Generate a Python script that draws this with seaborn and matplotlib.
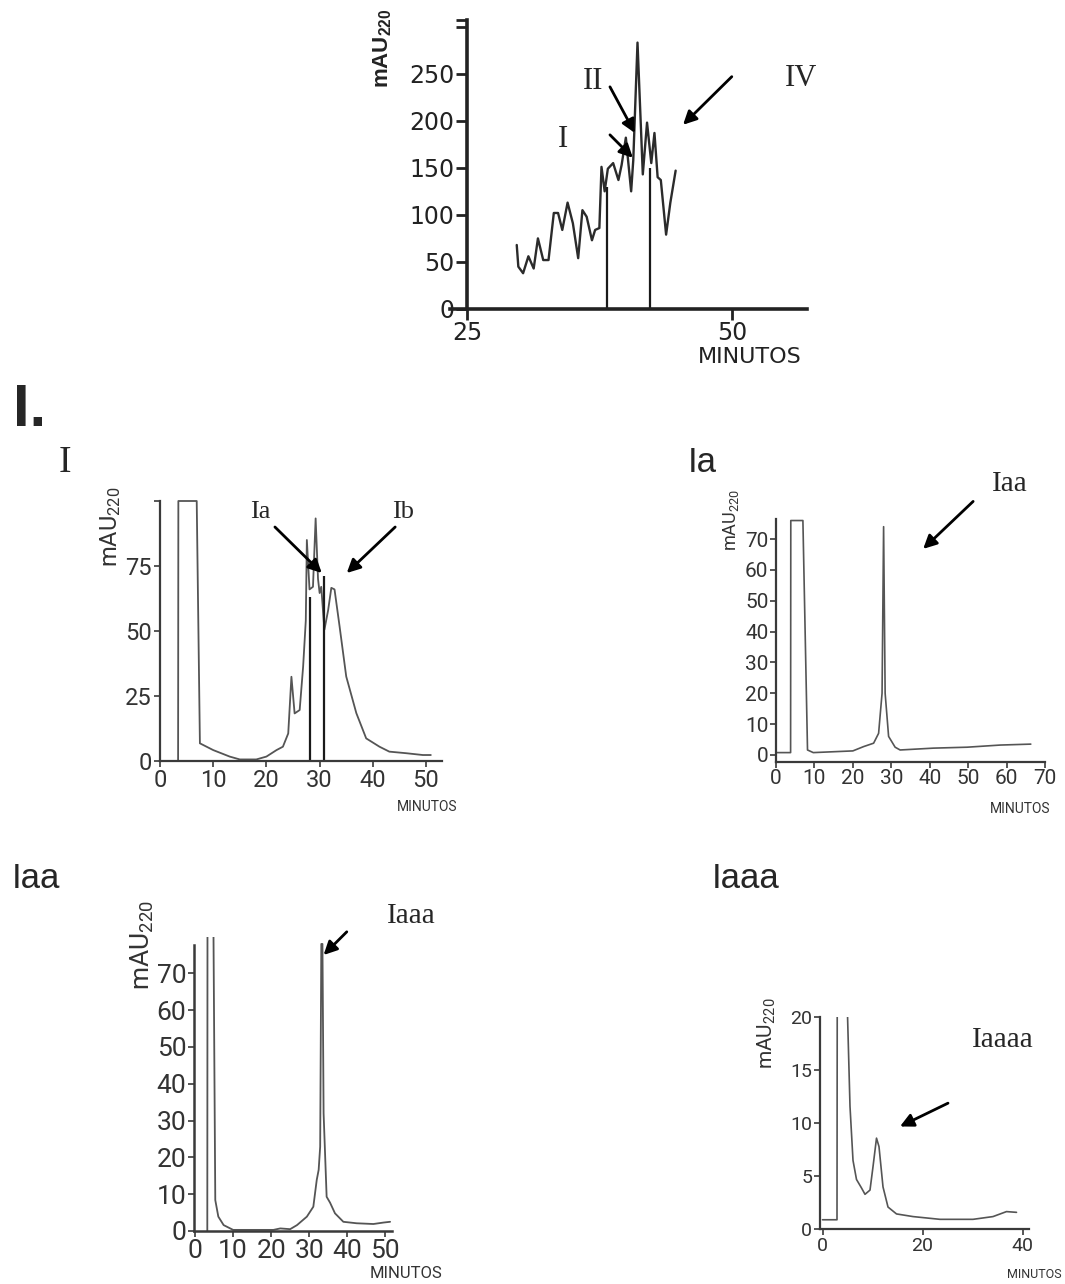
import matplotlib
matplotlib.use("Agg")
import matplotlib.pyplot as plt
import seaborn as sns

# ---------------- data ----------------
# crude extract chromatogram (minutes, mAU at 220 nm)
crude_min = [29.7, 29.85, 30.3, 30.8, 31.3, 31.7, 32.2, 32.7, 33.2, 33.6, 34.0, 34.5,
             35.0, 35.5, 35.9, 36.3, 36.8, 37.1, 37.5, 37.7, 38.0, 38.3, 38.8, 39.3,
             39.6, 40.0, 40.5, 40.7, 41.1, 41.6, 42.0, 42.4, 42.7, 43.0, 43.3, 43.8,
             44.2, 44.7]
crude_mau = [68, 45, 38, 56, 43, 75, 52, 52, 102, 102, 84, 113,
             91, 54, 105, 98, 73, 84, 86, 151, 125, 149, 155, 137,
             153, 182, 125, 158, 283, 143, 198, 155, 187, 140, 137, 79,
             113, 147]
crude_cut_min = [38.2, 42.3]
crude_cut_mau = [130, 150]

# fraction I
frI_min = [3.4, 3.45, 6.9, 7.5, 10.0, 13.1, 15.0, 18.1, 20.0, 21.9, 23.1, 24.1, 24.7,
           25.3, 26.25, 26.9, 27.4, 27.6, 28.1, 28.75, 29.25, 29.7, 30.0, 30.3, 30.9,
           31.6, 32.2, 32.8, 33.75, 35.0, 36.9, 38.75, 41.25, 43.1, 46.25, 49.4, 50.9]
frI_mau = [0, 100, 100, 6.8, 4.2, 1.7, 0.6, 0.6, 1.7, 4.2, 5.5, 10.6, 32.4,
           18.3, 19.6, 36.3, 54, 85, 66, 67, 93.3, 70, 64.6, 67, 50.5,
           58, 66.6, 66, 51.8, 32.5, 18.4, 8.7, 5.5, 3.6, 3.0, 2.3, 2.3]
frI_cut_min = [28.1, 30.8]
frI_cut_mau = [63, 71]

# fraction Ia
frIa_min = [0, 3.8, 3.85, 7.0, 8.2, 9.7, 20.0, 22.8, 25.4, 26.7, 27.6, 28.0, 28.4,
            29.3, 31.0, 32.3, 41.0, 49.7, 58.4, 66.3]
frIa_mau = [0.75, 0.75, 76, 76, 1.6, 0.75, 1.3, 2.7, 3.8, 7.0, 20.0, 74.0, 20.0,
            6.0, 2.5, 1.6, 2.2, 2.5, 3.2, 3.5]

# fraction Iaa
frIaa_min = [3.2, 3.25, 4.8, 5.3, 6.1, 7.5, 10.0, 20.6, 22.4, 25.0, 26.8, 29.4, 31.1,
             32.0, 32.5, 32.9, 33.2, 33.5, 33.8, 34.6, 35.5, 36.8, 39.0, 42.5, 46.9,
             49.6, 51.3]
frIaa_mau = [0, 85, 85, 8.4, 3.9, 1.6, 0.3, 0.3, 0.7, 0.5, 1.6, 3.9, 6.6,
             13.9, 16.6, 22.9, 78, 78, 32, 9.3, 7.7, 4.8, 2.5, 2.1, 1.9,
             2.3, 2.5]

# fraction Iaaa
frIaaa_min = [0, 2.9, 2.95, 4.9, 5.5, 6.1, 6.8, 7.8, 8.5, 9.5, 10.1, 10.8, 11.3, 12.1,
              13.1, 14.8, 18.1, 23.5, 30.1, 34.1, 36.8, 38.8]
frIaaa_mau = [0.9, 0.9, 22, 22, 11.6, 6.5, 4.7, 3.9, 3.3, 3.7, 5.9, 8.6, 7.8, 4.0,
              2.1, 1.45, 1.2, 0.94, 0.94, 1.2, 1.67, 1.6]

# ---------------- figure ----------------
sns.set_theme(style="ticks")
plt.rcParams["font.family"] = ["Roboto", "DejaVu Sans"]
plt.rcParams["mathtext.default"] = "regular"

W, H = 1065, 1284
fig = plt.figure(figsize=(W / 100, H / 100), dpi=100)
fig.patch.set_facecolor("white")


def panel(left, top, right, bottom):
    ax = fig.add_axes([left / W, 1 - bottom / H, (right - left) / W, (bottom - top) / H])
    ax.patch.set_alpha(0)
    return ax


def ftext(x, y, s, **kw):
    fig.text(x / W, 1 - y / H, s, **kw)


def style(ax, spine_w, color, tick_len, tick_w, size, family, pad, labelcolor):
    sns.despine(ax=ax)
    for s in ("left", "bottom"):
        ax.spines[s].set_linewidth(spine_w)
        ax.spines[s].set_color(color)
    ax.tick_params(length=tick_len, width=tick_w, color=color, labelsize=size,
                   pad=pad, labelcolor=labelcolor, direction="out",
                   labelfontfamily=family)
    ax.set_xlabel("")
    ax.set_ylabel("")
    ax.grid(False)


def arrow(ax, tail, tip, lw=2.0, head=20):
    ax.annotate("", xy=tip, xytext=tail, xycoords="data", textcoords="data",
                annotation_clip=False,
                arrowprops=dict(arrowstyle="-|>", color="black", lw=lw,
                                mutation_scale=head, shrinkA=0, shrinkB=0))


serif = ["Liberation Serif", "DejaVu Serif"]

# ---- crude extract ----
ax0 = panel(450, 20, 807, 309)
sns.lineplot(x=crude_min, y=crude_mau, sort=False, estimator=None, ax=ax0,
             color="#2b2b2b", lw=1.7)
ax0.vlines(crude_cut_min, 0, crude_cut_mau, color="#1a1a1a", lw=1.6)
ax0.set_xlim(23.4, 57.1)
ax0.set_ylim(0, 307)
ax0.set_xticks([25, 50])
ax0.set_yticks([0, 50, 100, 150, 200, 250, 300, 307])
ax0.set_yticklabels(["0", "50", "100", "150", "200", "250", "", ""])
style(ax0, 2.6, "#222222", 8, 2.0, 17, "DejaVu Sans", 1, "#222222")
ax0.spines["left"].set_position(("data", 25))
ax0.text(34.06, 179.8, "I", family=serif, fontsize=22, ha="center", va="center")
ax0.text(36.9, 241.5, "II", family=serif, fontsize=22, ha="center", va="center")
ax0.text(56.5, 244.7, "IV", family=serif, fontsize=22, ha="center", va="center")
arrow(ax0, (38.5, 236), (40.85, 187))
arrow(ax0, (38.5, 185), (40.66, 160.6))
arrow(ax0, (50.0, 246.8), (45.4, 195.7))
ftext(383, 48, "mAU$_{220}$", rotation=90, ha="center", va="center",
      fontsize=16, fontweight="bold", family=["Liberation Sans"], color="#222222")
ftext(750, 357, "MINUTOS", ha="center", va="center", fontsize=16,
      family=["DejaVu Sans"], color="#222222")

# ---- headers ----
ftext(13, 426, "I.", ha="left", va="baseline", fontsize=43, fontweight="bold",
      family=["Liberation Sans"])
ftext(65, 472, "I", ha="center", va="baseline", fontsize=27, family=serif)
ftext(688, 472, "Ia", ha="left", va="baseline", fontsize=25, family=["Liberation Sans"])
ftext(12, 888, "Iaa", ha="left", va="baseline", fontsize=25, family=["Liberation Sans"])
ftext(712, 888, "Iaaa", ha="left", va="baseline", fontsize=25, family=["Liberation Sans"])

trace_col = "#555555"
axis_col = "#3a3a3a"
lab_col = "#333333"

# ---- fraction I ----
ax1 = panel(160, 501, 442, 761)
sns.lineplot(x=frI_min, y=frI_mau, sort=False, estimator=None, ax=ax1,
             color=trace_col, lw=1.3, clip_on=False)
ax1.vlines(frI_cut_min, 0, frI_cut_mau, color="#1a1a1a", lw=1.6)
ax1.set_xlim(0, 53)
ax1.set_ylim(0, 100)
ax1.set_xticks([0, 10, 20, 30, 40, 50])
ax1.set_yticks([0, 25, 50, 75, 100])
ax1.set_yticklabels(["0", "25", "50", "75", ""])
style(ax1, 1.6, axis_col, 4, 1.2, 17, "Roboto", 2, lab_col)
ax1.text(18.8, 95.8, "Ia", family=serif, fontsize=19, ha="center", va="center")
ax1.text(45.7, 95.8, "Ib", family=serif, fontsize=19, ha="center", va="center")
arrow(ax1, (21.6, 90), (30.4, 72.3))
arrow(ax1, (44.2, 90), (35.1, 72.3))
ftext(111, 527, "mAU$_{220}$", rotation=90, ha="center", va="center",
      fontsize=17, color=lab_col)
ftext(427, 807, "MINUTOS", ha="center", va="center", fontsize=10, color=lab_col)

# ---- fraction Ia ----
ax2 = panel(776, 519.3, 1045, 761.7)
sns.lineplot(x=frIa_min, y=frIa_mau, sort=False, estimator=None, ax=ax2,
             color=trace_col, lw=1.2, clip_on=False)
ax2.set_xlim(0, 70)
ax2.set_ylim(-2.2, 76.4)
ax2.set_xticks(range(0, 71, 10))
ax2.set_yticks(range(0, 71, 10))
style(ax2, 1.6, axis_col, 4, 1.2, 15, "Roboto", 1.5, lab_col)
ax2.text(60.9, 87.7, "Iaa", family=serif, fontsize=21, ha="center", va="center")
arrow(ax2, (51.3, 82.2), (38.3, 66.8))
ftext(731, 520, "mAU$_{220}$", rotation=90, ha="center", va="center",
      fontsize=13, color=lab_col)
ftext(1020, 809, "MINUTOS", ha="center", va="center", fontsize=10, color=lab_col)

# ---- fraction Iaa ----
ax3 = panel(194, 936.6, 392, 1231)
sns.lineplot(x=frIaa_min, y=frIaa_mau, sort=False, estimator=None, ax=ax3,
             color=trace_col, lw=1.3)
ax3.set_xlim(-0.3, 51.8)
ax3.set_xticks([0, 10, 20, 30, 40, 50])
ax3.set_yticks([0, 10, 20, 30, 40, 50, 60, 70])
style(ax3, 1.8, axis_col, 4, 1.2, 19, "Roboto", 1.5, lab_col)
ax3.set_ylim(0, 80)
ax3.spines["left"].set_bounds(0, 77.7)
ax3.text(56.8, 85.5, "Iaaa", family=serif, fontsize=21, ha="center", va="center")
arrow(ax3, (39.9, 81.3), (33.8, 75))
ftext(142, 945, "mAU$_{220}$", rotation=90, ha="center", va="center",
      fontsize=19, color=lab_col)
ftext(406, 1274, "MINUTOS", ha="center", va="center", fontsize=12, color=lab_col)

# ---- fraction Iaaa ----
ax4 = panel(820, 1017.3, 1028.5, 1229.3)
sns.lineplot(x=frIaaa_min, y=frIaaa_mau, sort=False, estimator=None, ax=ax4,
             color=trace_col, lw=1.2)
ax4.set_xlim(-0.5, 41.2)
ax4.set_ylim(0, 20)
ax4.set_xticks([0, 20, 40])
ax4.set_yticks([0, 5, 10, 15, 20])
style(ax4, 1.6, axis_col, 4, 1.2, 14, "Roboto", 1.5, lab_col)
ax4.text(36.0, 17.9, "Iaaaa", family=serif, fontsize=21, ha="center", va="center")
arrow(ax4, (25.1, 11.9), (15.5, 9.7))
ftext(767, 1033, "mAU$_{220}$", rotation=90, ha="center", va="center",
      fontsize=15, color=lab_col)
ftext(1034, 1275, "MINUTOS", ha="center", va="center", fontsize=9, color=lab_col)

fig.savefig("out.png", dpi=100, facecolor="white")
